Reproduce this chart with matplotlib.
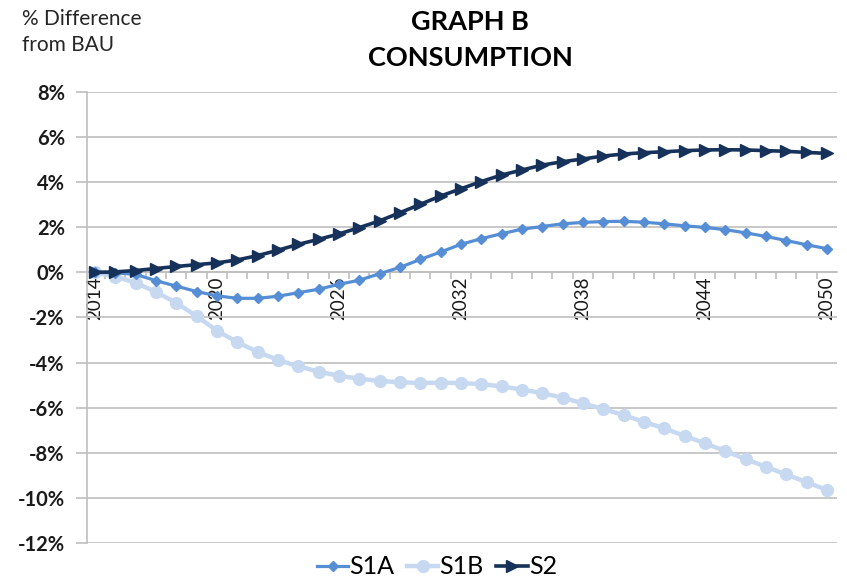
import numpy as np
import matplotlib.pyplot as plt
from matplotlib.ticker import FuncFormatter

# % difference from BAU, one value per year 2014-2050
years = list(range(2014, 2051))

s1a = [0.00, -0.02, -0.09, -0.37, -0.61, -0.85, -1.04, -1.15, -1.15, -1.06, -0.90,
       -0.75, -0.53, -0.35, -0.06, 0.22, 0.57, 0.90, 1.24, 1.49, 1.71, 1.91,
       2.03, 2.15, 2.21, 2.25, 2.26, 2.22, 2.15, 2.06, 1.99, 1.89, 1.75,
       1.59, 1.41, 1.22, 1.05]

s1b = [0.00, -0.19, -0.46, -0.87, -1.35, -1.94, -2.58, -3.09, -3.52, -3.88, -4.16,
       -4.40, -4.58, -4.71, -4.81, -4.87, -4.90, -4.89, -4.90, -4.95, -5.05, -5.19,
       -5.35, -5.55, -5.80, -6.05, -6.32, -6.62, -6.91, -7.24, -7.57, -7.91, -8.27,
       -8.61, -8.95, -9.29, -9.64]

s2 = [0.00, 0.02, 0.08, 0.17, 0.26, 0.34, 0.42, 0.55, 0.74, 0.98, 1.24,
      1.46, 1.70, 1.98, 2.28, 2.64, 3.01, 3.38, 3.70, 4.02, 4.31, 4.53,
      4.75, 4.90, 5.02, 5.15, 5.24, 5.30, 5.34, 5.39, 5.42, 5.43, 5.42,
      5.39, 5.36, 5.31, 5.27]

shown_years = [2014, 2020, 2026, 2032, 2038, 2044, 2050]

plt.rcParams['font.family'] = ['Lato', 'DejaVu Sans']

fig = plt.figure(figsize=(8.47, 5.84), dpi=100)
ax = fig.add_axes([87 / 847, 1 - 543.3 / 584, 750 / 847, 451.6 / 584])

x = np.arange(len(years))
ax.plot(x, s1a, color='#558ED5', lw=2.3, marker='D', ms=5.5, label='S1A', zorder=3)
ax.plot(x, s1b, color='#C6D9F1', lw=3.2, marker='o', ms=8.5, label='S1B', zorder=2)
ax.plot(x, s2, color='#16325A', lw=2.6, marker='>', ms=8.5, label='S2', zorder=4)

ax.set_xlim(-0.39, 36.5)
ax.set_ylim(-12, 8)
ax.set_yticks(np.arange(-12, 9, 2))
ax.yaxis.set_major_formatter(FuncFormatter(lambda v, p: f'{v:.0f}%'))
ax.grid(axis='y', color='#BFBFBF', lw=1.2, zorder=0)
ax.tick_params(axis='y', length=8, width=1.2, color='#BFBFBF', pad=8,
               labelsize=14.5, labelcolor='#1a1a1a')
for t in ax.get_yticklabels():
    t.set_fontweight('bold')

# category axis crosses at zero, tick marks between categories
ax.spines['bottom'].set_position(('data', 0))
for side in ['top', 'right']:
    ax.spines[side].set_visible(False)
for side in ['left', 'bottom']:
    ax.spines[side].set_color('#BFBFBF')
    ax.spines[side].set_linewidth(1.2)

ax.set_xticks(x[:-1] + 0.5)
ax.set_xticklabels([])
ax.tick_params(axis='x', which='major', length=5, width=1.2, color='#BFBFBF')
ax.set_xticks([years.index(y) for y in shown_years], minor=True)
ax.set_xticklabels([str(y) for y in shown_years], minor=True, rotation=90,
                   fontsize=13.5, color='#1a1a1a')
ax.tick_params(axis='x', which='minor', length=0, pad=3)

fig.text(470 / 847, 1 - 22 / 584, 'GRAPH B', ha='center', va='center',
         fontsize=19.5, fontweight='bold', color='#000000')
fig.text(470 / 847, 1 - 58 / 584, 'CONSUMPTION', ha='center', va='center',
         fontsize=19.5, fontweight='bold', color='#000000')
fig.text(22 / 847, 1 - 19 / 584, '% Difference', ha='left', va='center',
         fontsize=15, color='#262626')
fig.text(22 / 847, 1 - 45 / 584, 'from BAU', ha='left', va='center',
         fontsize=15, color='#262626')

fig.legend(loc='center', bbox_to_anchor=(437 / 847, 1 - 567 / 584), ncol=3,
           frameon=False, fontsize=18, handlelength=1.25, handletextpad=0.05,
           columnspacing=0.5, numpoints=1)

fig.savefig('out.png', dpi=100)
